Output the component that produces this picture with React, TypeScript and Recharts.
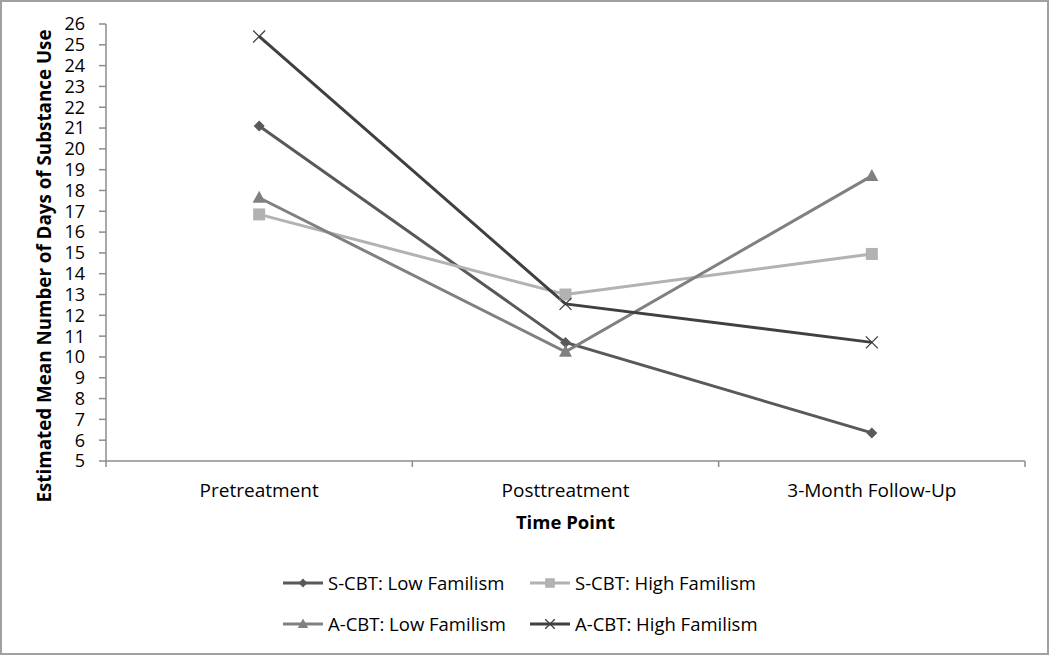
import React from "react";
import { LineChart, Line, XAxis, YAxis, Legend } from "recharts";

const timePoints = ["Pretreatment", "Posttreatment", "3-Month Follow-Up"];
const scbtLow = [21.1, 10.7, 6.35];
const scbtHigh = [16.85, 13.0, 14.95];
const acbtLow = [17.65, 10.25, 18.7];
const acbtHigh = [25.4, 12.55, 10.7];
const yTicks = [5, 6, 7, 8, 9, 10, 11, 12, 13, 14, 15, 16, 17, 18, 19, 20, 21, 22, 23, 24, 25, 26];

const data = timePoints.map((t, i) => ({
  time: t,
  scbtLow: scbtLow[i],
  scbtHigh: scbtHigh[i],
  acbtLow: acbtLow[i],
  acbtHigh: acbtHigh[i],
}));

const FONT = "'Open Sans', 'Noto Sans', sans-serif";
const AXIS = "#8c8c8c";

type Kind = "diamond" | "square" | "triangle" | "cross";

const seriesDefs: { key: string; name: string; color: string; kind: Kind }[] = [
  { key: "scbtLow", name: "S-CBT: Low Familism", color: "#595959", kind: "diamond" },
  { key: "scbtHigh", name: "S-CBT: High Familism", color: "#b2b2b2", kind: "square" },
  { key: "acbtLow", name: "A-CBT: Low Familism", color: "#808080", kind: "triangle" },
  { key: "acbtHigh", name: "A-CBT: High Familism", color: "#404040", kind: "cross" },
];

function markerEl(kind: Kind, cx: number, cy: number, color: string, scale = 1) {
  if (kind === "diamond") {
    const h = 5.5 * scale;
    return <path d={`M${cx},${cy - h}L${cx + h},${cy}L${cx},${cy + h}L${cx - h},${cy}Z`} fill={color} />;
  }
  if (kind === "square") {
    const h = 6 * scale;
    return <rect x={cx - h} y={cy - h} width={2 * h} height={2 * h} fill={color} />;
  }
  if (kind === "triangle") {
    const w = 6.5 * scale;
    return (
      <path
        d={`M${cx},${cy - 7 * scale}L${cx + w},${cy + 5 * scale}L${cx - w},${cy + 5 * scale}Z`}
        fill={color}
      />
    );
  }
  const h = 6 * scale;
  return (
    <path
      d={`M${cx - h},${cy - h}L${cx + h},${cy + h}M${cx - h},${cy + h}L${cx + h},${cy - h}`}
      stroke={color}
      strokeWidth={1.3}
      fill="none"
    />
  );
}

const makeDot = (kind: Kind, color: string) => (props: any) => {
  const { cx, cy, index } = props;
  if (cx == null || cy == null) return <g key={`d-${index}`} />;
  return <g key={`d-${index}`}>{markerEl(kind, cx, cy, color)}</g>;
};

const CategoryTick = (props: any) => {
  const { x, y, payload, width, visibleTicksCount, index } = props;
  const half =
    payload && payload.offset ? payload.offset : width / (visibleTicksCount || 3) / 2;
  const isLast = index === (visibleTicksCount || 3) - 1;
  return (
    <g>
      <line x1={x - half} x2={x - half} y1={y} y2={y + 6} stroke={AXIS} strokeWidth={1.5} />
      {isLast && (
        <line x1={x + half} x2={x + half} y1={y} y2={y + 6} stroke={AXIS} strokeWidth={1.5} />
      )}
      <text x={x} y={y + 36} textAnchor="middle" fill="#000" fontSize={19} fontFamily={FONT}>
        {payload.value}
      </text>
    </g>
  );
};

const LegendContent = () => {
  const cols = [283, 530];
  const rows = [25, 66];
  return (
    <div style={{ position: "relative", width: 1050, height: 90 }}>
      {seriesDefs.map((s, i) => {
        const left = cols[i % 2];
        const top = rows[Math.floor(i / 2)];
        return (
          <div
            key={s.key}
            style={{
              position: "absolute",
              left,
              top: top - 12,
              height: 24,
              display: "flex",
              alignItems: "center",
              whiteSpace: "nowrap",
            }}
          >
            <svg width={42} height={24} style={{ display: "block" }}>
              <line x1={0} x2={40} y1={12} y2={12} stroke={s.color} strokeWidth={3} />
              {markerEl(s.kind, 20, 12, s.color, 0.8)}
            </svg>
            <span
              style={{
                fontFamily: FONT,
                fontSize: 18.5,
                color: "#000",
                marginLeft: 3,
                lineHeight: "24px",
              }}
            >
              {s.name}
            </span>
          </div>
        );
      })}
    </div>
  );
};

export default function App() {
  return (
    <div
      style={{
        position: "absolute",
        left: 0,
        top: 0,
        width: 1050,
        height: 656,
        background: "#fff",
        fontFamily: FONT,
      }}
    >
      <LineChart
        width={1050}
        height={656}
        data={data}
        margin={{ top: 24, right: 25, bottom: 8, left: 0 }}
      >
        <XAxis
          dataKey="time"
          type="category"
          scale="band"
          axisLine={{ stroke: AXIS, strokeWidth: 1.5 }}
          tickLine={false}
          tickSize={0}
          tickMargin={0}
          height={97}
          interval={0}
          tick={<CategoryTick />}
          label={{
            value: "Time Point",
            position: "insideTop",
            offset: 55,
            fill: "#000",
            fontSize: 18.5,
            fontWeight: 700,
            fontFamily: FONT,
          }}
        />
        <YAxis
          type="number"
          domain={[5, 26]}
          ticks={yTicks}
          interval={0}
          width={106}
          axisLine={{ stroke: AXIS, strokeWidth: 1.5 }}
          tickLine={{ stroke: AXIS, strokeWidth: 1.5 }}
          tickSize={7}
          tickMargin={14}
          tick={{ fill: "#000", fontSize: 18, fontFamily: FONT }}
          allowDataOverflow
        />
        <Legend
          verticalAlign="bottom"
          align="left"
          height={90}
          wrapperStyle={{ left: 0, width: 1050, bottom: 8 }}
          content={<LegendContent />}
        />
        {seriesDefs.map((s) => (
          <Line
            key={s.key}
            dataKey={s.key}
            name={s.name}
            stroke={s.color}
            strokeWidth={3}
            dot={makeDot(s.kind, s.color)}
            activeDot={false}
            isAnimationActive={false}
          />
        ))}
      </LineChart>
      <div
        style={{
          position: "absolute",
          left: 44,
          top: 266,
          transform: "translate(-50%, -50%) rotate(-90deg)",
          whiteSpace: "nowrap",
          fontFamily: FONT,
          fontWeight: 700,
          fontSize: 18.8,
          lineHeight: "20px",
          color: "#000",
        }}
      >
        Estimated Mean Number of Days of Substance Use
      </div>
      <div
        style={{
          position: "absolute",
          left: 0,
          top: 0,
          width: 1049,
          height: 655,
          boxSizing: "border-box",
          border: "2px solid #a0a0a0",
          pointerEvents: "none",
        }}
      />
    </div>
  );
}
